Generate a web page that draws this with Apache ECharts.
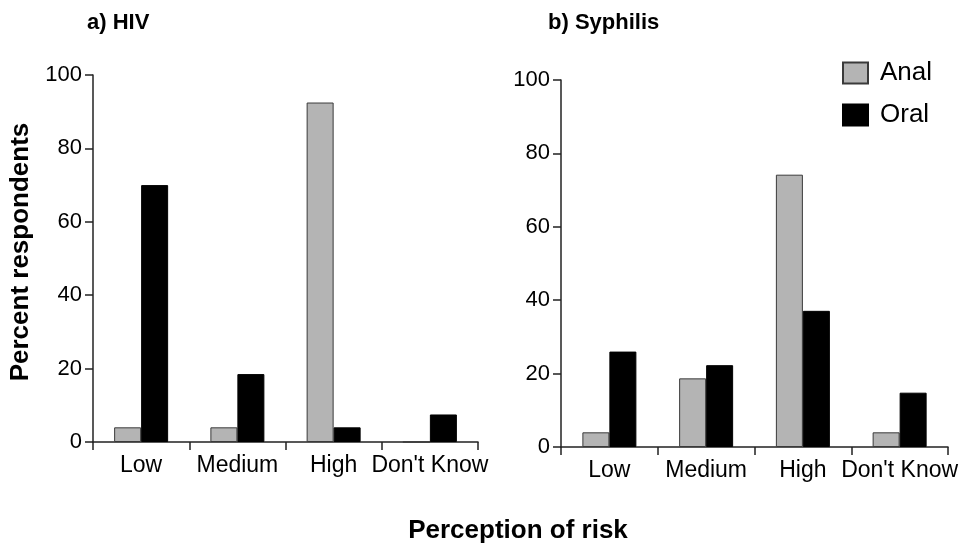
<!DOCTYPE html>
<html>
<head>
<meta charset="utf-8">
<script src="https://cdn.jsdelivr.net/npm/echarts@6/dist/echarts.min.js"></script>
<style>
html,body{margin:0;padding:0;background:#fff;}
#chart{width:976px;height:547px;}
</style>
</head>
<body>
<div id="chart"></div>
<script>
const categories = ['Low', 'Medium', 'High', "Don't Know"];
const yTicks = [0, 20, 40, 60, 80, 100];
const hivAnal = [4, 4, 92.5, 0];
const hivOral = [70, 18.5, 4, 7.5];
const syphAnal = [4, 18.7, 74.2, 4];
const syphOral = [26, 22.3, 37.1, 14.8];
const seriesNames = ['Anal', 'Oral'];
const panelTitles = ['a) HIV', 'b) Syphilis'];
const yTitle = 'Percent respondents';
const xTitle = 'Perception of risk';

const FONT = '"Liberation Sans", Arial, Helvetica, sans-serif';
const axisColor = '#222';
const grayStyle = { color: '#b4b4b4', borderColor: '#3a3a3a', borderWidth: 1 };
const blackStyle = { color: '#000', borderColor: '#000', borderWidth: 1 };

function xAxisFor(gi) {
  return {
    type: 'category', gridIndex: gi, data: categories,
    boundaryGap: true,
    axisLine: { show: true, lineStyle: { color: axisColor, width: 1.5 } },
    axisTick: { show: true, interval: 0, alignWithLabel: false, length: 8, lineStyle: { color: axisColor, width: 1.5 } },
    axisLabel: { interval: 0, color: '#000', fontFamily: FONT, fontSize: 23, margin: 12 },
    splitLine: { show: false }
  };
}
function yAxisFor(gi) {
  return {
    type: 'value', gridIndex: gi, min: yTicks[0], max: yTicks[yTicks.length - 1], interval: yTicks[1] - yTicks[0],
    axisLine: { show: true, lineStyle: { color: axisColor, width: 1.5 } },
    axisTick: { show: true, length: 8, lineStyle: { color: axisColor, width: 1.5 } },
    axisLabel: { color: '#000', fontFamily: FONT, fontSize: 22, margin: 11 },
    splitLine: { show: false }
  };
}

const chart = echarts.init(document.getElementById('chart'), null, { renderer: 'canvas' });
chart.setOption({
  backgroundColor: '#fff',
  animation: false,
  title: [
    { text: panelTitles[0], left: 82, top: 7, textStyle: { fontFamily: FONT, fontSize: 22, fontWeight: 'bold', color: '#000' } },
    { text: panelTitles[1], left: 543, top: 7, textStyle: { fontFamily: FONT, fontSize: 22, fontWeight: 'bold', color: '#000' } }
  ],
  legend: {
    data: seriesNames,
    orient: 'vertical',
    left: 837, top: 55,
    itemWidth: 25, itemHeight: 21, itemGap: 16,
    icon: 'rect',
    textStyle: { fontFamily: FONT, fontSize: 26, color: '#000', padding: [0, 0, 0, 7] }
  },
  grid: [
    { left: 93, top: 75, width: 385, height: 367, containLabel: false },
    { left: 561, top: 80, width: 387, height: 367, containLabel: false }
  ],
  xAxis: [xAxisFor(0), xAxisFor(1)],
  yAxis: [yAxisFor(0), yAxisFor(1)],
  graphic: [
    { type: 'text', x: 21, y: 252, rotation: Math.PI / 2,
      style: { text: yTitle, fontFamily: FONT, fontSize: 26, fontWeight: 'bold', fill: '#000', align: 'center', verticalAlign: 'middle' } },
    { type: 'text', x: 518, y: 531,
      style: { text: xTitle, fontFamily: FONT, fontSize: 26, fontWeight: 'bold', fill: '#000', align: 'center', verticalAlign: 'middle' } }
  ],
  series: [
    { name: seriesNames[0], type: 'bar', xAxisIndex: 0, yAxisIndex: 0, data: hivAnal, barWidth: 27, barGap: '0%', itemStyle: grayStyle },
    { name: seriesNames[1], type: 'bar', xAxisIndex: 0, yAxisIndex: 0, data: hivOral, barWidth: 27, barGap: '0%', itemStyle: blackStyle },
    { name: seriesNames[0], type: 'bar', xAxisIndex: 1, yAxisIndex: 1, data: syphAnal, barWidth: 27, barGap: '0%', itemStyle: grayStyle },
    { name: seriesNames[1], type: 'bar', xAxisIndex: 1, yAxisIndex: 1, data: syphOral, barWidth: 27, barGap: '0%', itemStyle: blackStyle }
  ]
});
</script>
</body>
</html>
